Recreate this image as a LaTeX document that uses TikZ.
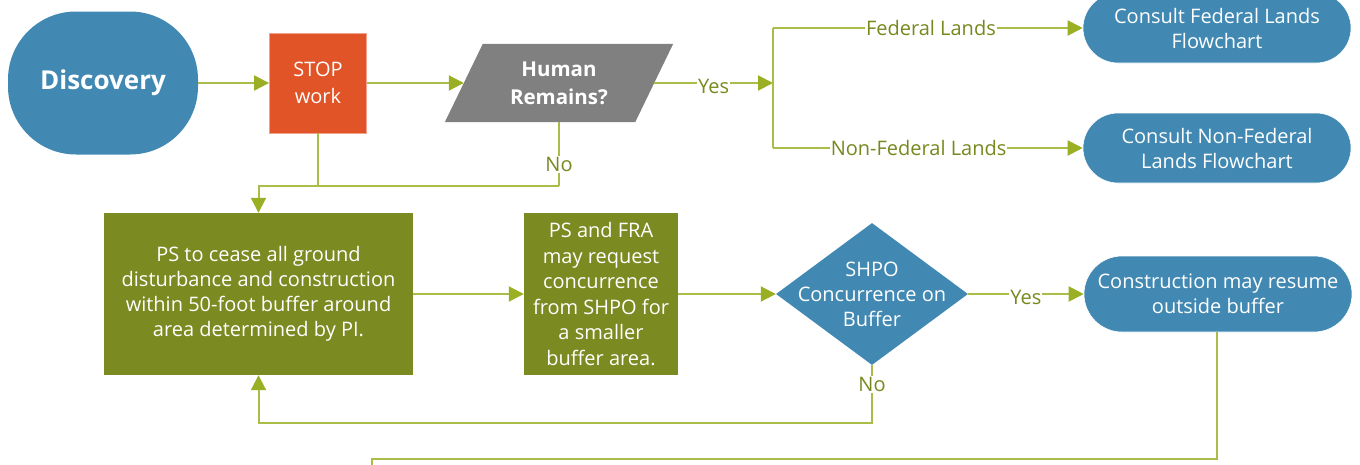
\documentclass[tikz,border=0pt]{standalone}
\usepackage{fontspec}
\setmainfont{Open Sans}
\usetikzlibrary{arrows.meta,shapes.geometric}
\definecolor{blu}{HTML}{4189B3}
\definecolor{org}{HTML}{E05428}
\definecolor{gry}{HTML}{808080}
\definecolor{olv}{HTML}{7B8A21}
\definecolor{ln}{HTML}{AABD48}
\definecolor{tip}{HTML}{9BAF25}
\definecolor{lbc}{HTML}{76891E}
\tikzset{
  conn/.style={draw=ln, line width=2pt},
  arr/.style={conn, -{Triangle[length=15pt,width=15pt,fill=tip,color=tip]}},
  lbl/.style={fill=white, text=lbc, inner sep=1pt, font=\fontsize{20}{22}\selectfont},
  wtxt/.style={text=white, align=center, font=\fontsize{20}{25}\selectfont},
  term/.style={wtxt, fill=blu, draw=white, line width=0.6pt, rounded corners=35pt, minimum width=268pt, minimum height=70pt, inner sep=0pt},
  olvbox/.style={wtxt, fill=olv, inner sep=0pt},
}
\begin{document}
\begin{tikzpicture}[x=1pt,y=-1pt]
\useasboundingbox (0,0) rectangle (1360,464);
% nodes
\node[fill=blu, rounded corners=68pt, minimum width=190pt, minimum height=143pt, inner sep=0pt, text=white, font=\bfseries\fontsize{26}{28}\selectfont] (disc) at (103,83) {Discovery};
\node[fill=org, draw={rgb,255:red,240;green,160;blue,140}, line width=0.8pt, minimum width=97pt, minimum height=100pt, inner sep=0pt, wtxt, font=\fontsize{20}{27}\selectfont] (stop) at (318,83) {STOP\\work};
\node[minimum width=190pt, minimum height=78pt, inner sep=0pt] (hr) at (559,83) {};
\fill[gry] ([xshift=-19pt]hr.south west) -- ([xshift=19pt]hr.north west) -- ([xshift=19pt]hr.north east) -- ([xshift=-19pt]hr.south east) -- cycle;
\node[wtxt, font=\bfseries\fontsize{20.5}{28}\selectfont] (hrt) at (hr.center) {Human\\Remains?};
\node[term] (fl) at (1217,28) {Consult Federal Lands\\Flowchart};
\node[term] (nfl) at (1217,148) {Consult Non-Federal\\Lands Flowchart};
\node[olvbox, minimum width=309pt, minimum height=162pt] (cease) at (258.5,294) {PS to cease all ground\\disturbance and construction\\within 50-foot buffer around\\area determined by PI.};
\node[olvbox, minimum width=154pt, minimum height=162pt, font=\fontsize{20}{25.5}\selectfont] (req) at (601,294) {PS and FRA\\may request\\concurrence\\from SHPO for\\a smaller\\buffer area.};
\node[diamond, fill=blu, minimum width=192pt, minimum height=142pt, inner sep=0pt] (conc) at (872,294) {};
\node[wtxt] (conct) at (872,294) {SHPO\\Concurrence on\\Buffer};
\node[term, minimum height=76pt, rounded corners=38pt] (res) at (1218,294) {Construction may resume\\outside buffer};
% coordinates
\coordinate (br) at (773,83);
\coordinate (j1) at (559,186);
\coordinate (j2) at (872,423);
\coordinate (j3) at (1217,459);
\coordinate (j4) at (372,459);
\coordinate (j5) at (372,480);
% connectors
\draw[arr] (disc.east) -- (stop.west);
\draw[arr] (stop.east) -- (hr.west);
\draw[arr] (hr.east) -- node[lbl, yshift=-3pt]{Yes} (br);
\draw[conn] (br |- fl.west) -- (br |- nfl.west);
\draw[arr] (br |- fl.west) -- node[lbl, pos=0.51]{Federal Lands} (fl.west);
\draw[arr] (br |- nfl.west) -- node[lbl, pos=0.47]{Non-Federal Lands} (nfl.west);
\draw[conn] (hr.south) -- node[lbl, pos=0.66]{No} (j1);
\draw[conn] (stop.south) -- (stop.south |- j1);
\draw[arr] (j1) -| (cease.north);
\draw[arr] (cease.east) -- (req.west);
\draw[arr] (req.east) -- (conc.west);
\draw[arr] (conc.east) -- node[lbl, pos=0.5, yshift=-3pt]{Yes} (res.west);
\draw[arr] (conc.south) -- node[lbl, pos=0.33]{No} (j2) -| (cease.south);
\draw[conn] (res.south -| j3) -- (j3) -- (j4) -- (j5);
\end{tikzpicture}
\end{document}
